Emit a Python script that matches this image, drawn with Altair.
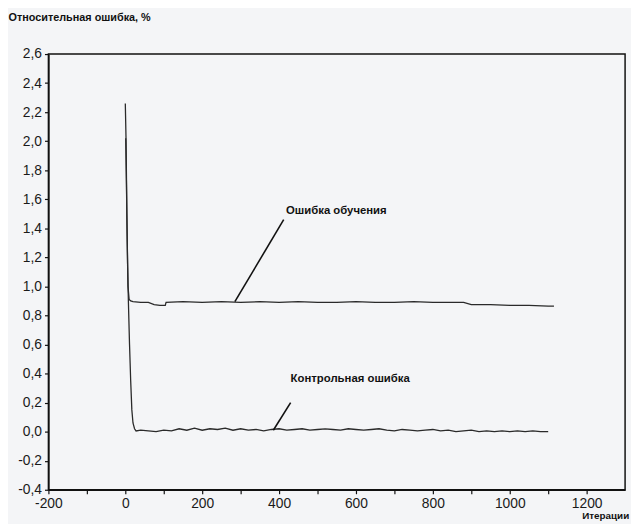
import altair as alt
import pandas as pd

# --- data ---
train_iter = [1, 3, 5, 7, 10, 14, 20, 40, 60, 75, 90, 104, 106, 150, 200, 250, 300, 350, 400,
              450, 500, 550, 600, 650, 700, 750, 800, 850, 880, 900, 950, 1000, 1050, 1100, 1115]
train_err = [2.02, 1.70, 1.30, 1.00, 0.91, 0.90, 0.895, 0.89, 0.89, 0.875, 0.87, 0.87, 0.89, 0.895,
             0.89, 0.895, 0.89, 0.895, 0.89, 0.895, 0.89, 0.89, 0.895, 0.89, 0.89, 0.895, 0.89,
             0.89, 0.89, 0.875, 0.875, 0.87, 0.87, 0.865, 0.865]

ctrl_iter = [0, 2, 4, 6, 8, 11, 14, 17, 20, 24, 28, 40, 60, 80, 100, 120, 140, 160, 180, 200,
             220, 240, 260, 280, 300, 320, 340, 360, 380, 400, 420, 440, 460, 480, 500, 520,
             540, 560, 580, 600, 620, 640, 660, 680, 700, 720, 740, 760, 780, 800, 820, 840,
             860, 880, 900, 920, 940, 960, 980, 1000, 1020, 1040, 1060, 1080, 1100]
ctrl_err = [2.26, 2.00, 1.50, 1.15, 0.90, 0.60, 0.35, 0.15, 0.06, 0.02, 0.005, 0.01, 0.005, 0.0,
            0.01, 0.005, 0.02, 0.01, 0.025, 0.01, 0.02, 0.015, 0.025, 0.01, 0.02, 0.01, 0.015,
            0.005, 0.015, 0.02, 0.01, 0.015, 0.02, 0.01, 0.015, 0.02, 0.015, 0.01, 0.02, 0.015,
            0.01, 0.015, 0.02, 0.01, 0.005, 0.015, 0.01, 0.005, 0.01, 0.015, 0.005, 0.01, 0.0,
            0.005, 0.01, 0.0, 0.005, 0.0, 0.005, 0.0, 0.005, 0.0, 0.005, 0.0, 0.0]

x_ticks = [-200, -100, 0, 100, 200, 300, 400, 500, 600, 700, 800, 900, 1000, 1100, 1200]
y_ticks = [-0.4, -0.2, 0.0, 0.2, 0.4, 0.6, 0.8, 1.0, 1.2, 1.4, 1.6, 1.8, 2.0, 2.2, 2.4, 2.6]

ann_label = ["Ошибка обучения", "Контрольная ошибка"]
ann_text_x = [418, 430]
ann_text_y = [1.52, 0.36]
ann_from_x = [285, 385]
ann_from_y = [0.895, 0.01]
ann_to_x = [412, 430]
ann_to_y = [1.46, 0.20]

# --- tables ---
lines = pd.concat([
    pd.DataFrame({"iter": train_iter, "err": train_err, "series": "Ошибка обучения"}),
    pd.DataFrame({"iter": ctrl_iter, "err": ctrl_err, "series": "Контрольная ошибка"}),
])
ann = pd.DataFrame({"label": ann_label, "tx": ann_text_x, "ty": ann_text_y,
                    "x1": ann_from_x, "y1": ann_from_y, "x2": ann_to_x, "y2": ann_to_y})

FONT = "Liberation Sans"

xscale = alt.Scale(domain=[-200, 1300], nice=False, zero=False)
yscale = alt.Scale(domain=[-0.4, 2.6], nice=False, zero=False)

x_axis = alt.Axis(
    values=x_ticks,
    labelExpr="datum.value % 200 == 0 ? toString(datum.value) : ''",
    labelOverlap=False, labelFlush=False, labelPadding=3,
    title="Итерации", titleFont=FONT, titleFontSize=10, titleFontWeight="bold",
    titleAngle=0, titleAlign="left", titleBaseline="bottom",
    titleX=541, titleY=31, titleColor="#111",
)
y_axis = alt.Axis(
    values=y_ticks,
    labelExpr="(datum.value < -0.001 ? '-' : '') + replace(format(abs(datum.value), '.1f'), '.', ',')",
    labelOverlap=False, labelFlush=False, labelPadding=3,
    title="Относительная ошибка, %", titleFont=FONT, titleFontSize=11, titleFontWeight="bold",
    titleAngle=0, titleAlign="left", titleBaseline="middle",
    titleX=-41, titleY=-37, titleColor="#111",
)

base_line = alt.Chart(lines).mark_line(color="#2a2a2a", strokeWidth=1.3).encode(
    x=alt.X("iter:Q", scale=xscale, axis=x_axis),
    y=alt.Y("err:Q", scale=yscale, axis=y_axis),
    detail="series:N",
    order="iter:Q",
)

pointers = alt.Chart(ann).mark_rule(color="#111", strokeWidth=1.6).encode(
    x=alt.X("x1:Q", scale=xscale, axis=x_axis),
    y=alt.Y("y1:Q", scale=yscale, axis=y_axis),
    x2="x2:Q",
    y2="y2:Q",
)

labels = alt.Chart(ann).mark_text(
    font=FONT, fontSize=11.5, fontWeight="bold", align="left", baseline="middle", color="#111"
).encode(
    x=alt.X("tx:Q", scale=xscale, axis=x_axis),
    y=alt.Y("ty:Q", scale=yscale, axis=y_axis),
    text="label:N",
)

chart = alt.layer(base_line, pointers, labels).properties(
    width=585,
    height=442,
    autosize=alt.AutoSizeParams(type="none"),
    padding={"left": 41, "top": 43, "right": 6, "bottom": 31},
    background="#f4f5f7",
).configure_view(
    stroke="#111", strokeWidth=1.5
).configure_axis(
    grid=False,
    labelOverlap=False,
    labelFont=FONT, labelFontSize=14, labelColor="#1a1a1a",
    domainColor="#111", domainWidth=1.5,
    tickColor="#111", tickSize=4, tickWidth=1.2,
)

chart.save("out.html", embed_options={"renderer": "svg", "actions": False})
